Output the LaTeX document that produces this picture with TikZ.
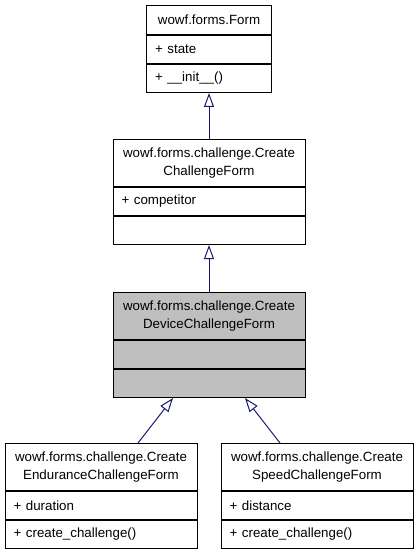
\documentclass[tikz,border=0pt]{standalone}
\usepackage{fontspec}
\setmainfont{Liberation Sans}
\usetikzlibrary{arrows.meta,positioning}
\definecolor{edgeblue}{RGB}{25,25,112}
\definecolor{hilite}{RGB}{191,191,191}
\begin{document}
\begin{tikzpicture}[x=0.75pt,y=-0.75pt,
	member/.style={draw=black,line width=0.75pt,fill=white,anchor=north,align=left,inner xsep=6.5pt,inner ysep=0pt,minimum height=21pt,text width=#1,font=\fontsize{10}{13}\selectfont},
	member/.default=131pt,
	title/.style={member=#1,align=center,minimum height=35.25pt},
	title/.default=131pt,
	hl/.style={fill=hilite},
	inherit/.style={draw=edgeblue,line width=0.75pt,-{Triangle[open,length=10.5pt,width=7.5pt]}}]
		\useasboundingbox (0,0) rectangle (419,552);
		\node[title=80.75pt,minimum height=21.75pt] (form) at (209,5) {wowf.forms.Form};
		\node[member=80.75pt,below=0pt of form] (form attr) {+ state};
		\node[member=80.75pt,below=0pt of form attr] (form meth) {+ \_\_init\_\_()};
		
		\node[title] (ccf) at (209,139) {wowf.forms.challenge.Create\\ChallengeForm};
		\node[member,below=0pt of ccf] (ccf attr) {+ competitor};
		\node[member,below=0pt of ccf attr] (ccf meth) {};
		
		\node[title,hl] (dev) at (209,292) {wowf.forms.challenge.Create\\DeviceChallengeForm};
		\node[member,hl,below=0pt of dev] (dev attr) {};
		\node[member,hl,below=0pt of dev attr] (dev meth) {};
		
		\node[title] (endur) at (101,443) {wowf.forms.challenge.Create\\EnduranceChallengeForm};
		\node[member,below=0pt of endur] (endur attr) {+ duration};
		\node[member,below=0pt of endur attr] (endur meth) {+ create\_challenge()};
		
		\node[title] (speed) at (317,443) {wowf.forms.challenge.Create\\SpeedChallengeForm};
		\node[member,below=0pt of speed] (speed attr) {+ distance};
		\node[member,below=0pt of speed attr] (speed meth) {+ create\_challenge()};
		
		\draw[inherit] (ccf.north) -- (form meth.south);
		\draw[inherit] (dev.north) -- (ccf meth.south);
		\draw[inherit] ([xshift=27.75pt]endur.north) -- ([xshift=-27pt]dev meth.south);
		\draw[inherit] ([xshift=-27.75pt]speed.north) -- ([xshift=27pt]dev meth.south);
		\end{tikzpicture}
\end{document}
